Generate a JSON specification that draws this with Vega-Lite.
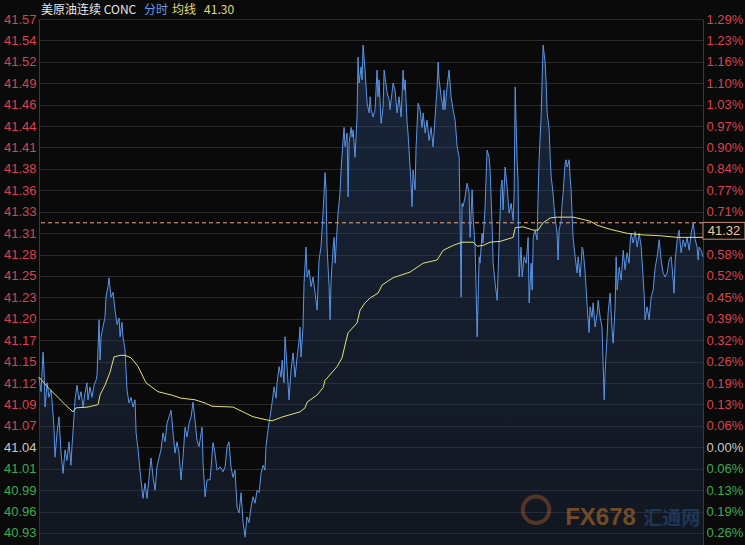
{
"$schema": "https://vega.github.io/schema/vega-lite/v6.json",
"width": 664, "height": 526,
"autosize": {"type": "none"},
"padding": {"left": 39, "top": 19, "right": 42, "bottom": 0},
"background": "#0a0a0a",
"config": {"view": {"stroke": null}, "axis": {"labelFont": "Liberation Sans", "labelFontSize": 13}},
"datasets": {
"price": [
{"t":0,"p":41.127},{"t":1.4,"p":41.109},{"t":2.8,"p":41.158},{"t":3.5,"p":41.136},{"t":4.2,"p":41.090},{"t":5.6,"p":41.120},{"t":6.9,"p":41.102},{"t":8.3,"p":41.111},{"t":9.0,"p":41.099},{"t":10.4,"p":41.065},{"t":11.1,"p":41.028},{"t":12.5,"p":41.058},{"t":13.9,"p":41.078},{"t":15.3,"p":41.033},{"t":16.7,"p":41.008},{"t":18.1,"p":41.037},{"t":19.4,"p":41.024},{"t":20.8,"p":41.047},{"t":22.2,"p":41.018},{"t":22.9,"p":41.041},{"t":24.3,"p":41.078},{"t":25.0,"p":41.099},{"t":26.4,"p":41.117},{"t":27.8,"p":41.099},{"t":29.2,"p":41.109},{"t":30.6,"p":41.090},{"t":31.9,"p":41.107},{"t":33.3,"p":41.120},{"t":34.0,"p":41.099},{"t":35.4,"p":41.115},{"t":36.8,"p":41.102},{"t":38.2,"p":41.117},{"t":39.6,"p":41.123},{"t":40.3,"p":41.130},{"t":41.7,"p":41.198},{"t":42.4,"p":41.148},{"t":43.1,"p":41.177},{"t":44.4,"p":41.189},{"t":45.8,"p":41.201},{"t":46.5,"p":41.226},{"t":47.9,"p":41.239},{"t":48.6,"p":41.250},{"t":50.0,"p":41.226},{"t":51.4,"p":41.232},{"t":52.8,"p":41.210},{"t":54.2,"p":41.192},{"t":55.6,"p":41.200},{"t":56.3,"p":41.177},{"t":57.6,"p":41.195},{"t":58.3,"p":41.177},{"t":59.7,"p":41.161},{"t":61.1,"p":41.111},{"t":62.5,"p":41.095},{"t":63.9,"p":41.102},{"t":65.3,"p":41.090},{"t":66.7,"p":41.099},{"t":67.4,"p":41.058},{"t":68.8,"p":41.037},{"t":70.1,"p":41.012},{"t":70.8,"p":41.000},{"t":72.2,"p":40.977},{"t":73.6,"p":40.996},{"t":75.0,"p":40.977},{"t":76.4,"p":41.003},{"t":77.8,"p":41.027},{"t":79.2,"p":41.003},{"t":80.6,"p":40.987},{"t":81.9,"p":41.016},{"t":83.3,"p":41.027},{"t":84.7,"p":41.037},{"t":86.1,"p":41.058},{"t":87.5,"p":41.047},{"t":88.9,"p":41.070},{"t":90.3,"p":41.078},{"t":91.7,"p":41.086},{"t":93.1,"p":41.058},{"t":94.4,"p":41.033},{"t":95.8,"p":41.047},{"t":97.2,"p":41.033},{"t":98.6,"p":41.000},{"t":100.0,"p":41.028},{"t":101.4,"p":41.065},{"t":102.8,"p":41.053},{"t":104.2,"p":41.070},{"t":105.6,"p":41.078},{"t":106.9,"p":41.096},{"t":108.3,"p":41.074},{"t":109.7,"p":41.049},{"t":111.1,"p":41.041},{"t":111.8,"p":41.049},{"t":113.2,"p":41.065},{"t":113.9,"p":41.021},{"t":115.3,"p":40.979},{"t":116.7,"p":41.000},{"t":118.8,"p":41.000},{"t":120.8,"p":41.046},{"t":122.2,"p":41.033},{"t":123.6,"p":41.012},{"t":125.7,"p":41.016},{"t":127.8,"p":41.010},{"t":129.2,"p":41.016},{"t":130.6,"p":41.041},{"t":131.9,"p":41.047},{"t":133.3,"p":41.016},{"t":134.7,"p":41.003},{"t":136.1,"p":41.012},{"t":137.5,"p":40.966},{"t":138.9,"p":40.959},{"t":140.3,"p":40.984},{"t":141.7,"p":40.947},{"t":143.1,"p":40.929},{"t":144.4,"p":40.954},{"t":145.8,"p":40.947},{"t":147.2,"p":40.966},{"t":148.6,"p":40.979},{"t":150.0,"p":40.971},{"t":151.4,"p":40.987},{"t":152.8,"p":40.984},{"t":154.2,"p":41.008},{"t":155.6,"p":41.018},{"t":156.9,"p":41.012},{"t":157.6,"p":41.041},{"t":159.0,"p":41.062},{"t":160.4,"p":41.078},{"t":161.8,"p":41.095},{"t":163.2,"p":41.115},{"t":164.6,"p":41.101},{"t":165.3,"p":41.120},{"t":166.7,"p":41.140},{"t":168.1,"p":41.127},{"t":168.8,"p":41.148},{"t":170.1,"p":41.120},{"t":170.8,"p":41.177},{"t":172.2,"p":41.140},{"t":173.6,"p":41.099},{"t":175.0,"p":41.136},{"t":176.4,"p":41.157},{"t":177.8,"p":41.127},{"t":179.2,"p":41.152},{"t":180.6,"p":41.173},{"t":181.2,"p":41.189},{"t":181.9,"p":41.152},{"t":183.3,"p":41.189},{"t":184.0,"p":41.243},{"t":185.4,"p":41.288},{"t":186.1,"p":41.251},{"t":187.5,"p":41.260},{"t":188.9,"p":41.239},{"t":190.3,"p":41.251},{"t":191.7,"p":41.231},{"t":193.1,"p":41.210},{"t":194.4,"p":41.272},{"t":195.8,"p":41.288},{"t":197.2,"p":41.330},{"t":198.6,"p":41.380},{"t":199.3,"p":41.359},{"t":200.0,"p":41.288},{"t":201.4,"p":41.239},{"t":202.1,"p":41.198},{"t":202.8,"p":41.247},{"t":204.2,"p":41.288},{"t":204.9,"p":41.300},{"t":205.6,"p":41.268},{"t":206.9,"p":41.309},{"t":207.6,"p":41.330},{"t":209.0,"p":41.355},{"t":209.7,"p":41.383},{"t":211.1,"p":41.420},{"t":211.8,"p":41.436},{"t":212.5,"p":41.412},{"t":213.9,"p":41.429},{"t":214.6,"p":41.350},{"t":215.3,"p":41.417},{"t":216.7,"p":41.436},{"t":217.4,"p":41.424},{"t":218.1,"p":41.433},{"t":219.4,"p":41.399},{"t":220.8,"p":41.449},{"t":221.5,"p":41.523},{"t":222.2,"p":41.491},{"t":223.6,"p":41.511},{"t":224.3,"p":41.495},{"t":225.0,"p":41.538},{"t":226.4,"p":41.507},{"t":227.1,"p":41.486},{"t":227.8,"p":41.466},{"t":229.2,"p":41.454},{"t":229.9,"p":41.474},{"t":230.6,"p":41.458},{"t":231.9,"p":41.449},{"t":233.3,"p":41.458},{"t":234.7,"p":41.507},{"t":235.4,"p":41.474},{"t":236.1,"p":41.495},{"t":237.5,"p":41.441},{"t":238.9,"p":41.461},{"t":239.6,"p":41.507},{"t":240.3,"p":41.498},{"t":241.7,"p":41.479},{"t":243.1,"p":41.470},{"t":243.7,"p":41.458},{"t":245.1,"p":41.479},{"t":245.8,"p":41.491},{"t":247.2,"p":41.482},{"t":248.6,"p":41.454},{"t":250.0,"p":41.474},{"t":251.4,"p":41.449},{"t":252.8,"p":41.507},{"t":253.5,"p":41.482},{"t":254.2,"p":41.495},{"t":255.6,"p":41.441},{"t":256.2,"p":41.429},{"t":256.9,"p":41.408},{"t":258.3,"p":41.367},{"t":259.0,"p":41.338},{"t":259.7,"p":41.383},{"t":261.1,"p":41.359},{"t":261.8,"p":41.412},{"t":263.2,"p":41.466},{"t":264.6,"p":41.458},{"t":265.9,"p":41.436},{"t":266.7,"p":41.454},{"t":268.1,"p":41.429},{"t":269.4,"p":41.445},{"t":270.8,"p":41.420},{"t":272.2,"p":41.436},{"t":273.6,"p":41.412},{"t":275.0,"p":41.449},{"t":276.4,"p":41.486},{"t":277.1,"p":41.517},{"t":277.8,"p":41.495},{"t":279.2,"p":41.474},{"t":280.6,"p":41.458},{"t":281.2,"p":41.482},{"t":281.9,"p":41.458},{"t":283.3,"p":41.486},{"t":284.7,"p":41.507},{"t":286.1,"p":41.474},{"t":287.5,"p":41.458},{"t":288.9,"p":41.445},{"t":289.6,"p":41.429},{"t":290.3,"p":41.412},{"t":291.7,"p":41.399},{"t":293.1,"p":41.226},{"t":293.7,"p":41.342},{"t":294.4,"p":41.338},{"t":295.8,"p":41.350},{"t":297.2,"p":41.367},{"t":298.6,"p":41.355},{"t":299.3,"p":41.300},{"t":300.7,"p":41.359},{"t":301.4,"p":41.325},{"t":302.8,"p":41.288},{"t":304.2,"p":41.177},{"t":305.6,"p":41.276},{"t":306.2,"p":41.268},{"t":307.6,"p":41.305},{"t":308.3,"p":41.293},{"t":309.7,"p":41.338},{"t":311.1,"p":41.408},{"t":312.5,"p":41.399},{"t":313.2,"p":41.383},{"t":314.6,"p":41.313},{"t":315.3,"p":41.268},{"t":316.7,"p":41.243},{"t":318.1,"p":41.222},{"t":319.4,"p":41.293},{"t":320.8,"p":41.362},{"t":321.5,"p":41.371},{"t":322.2,"p":41.334},{"t":323.6,"p":41.387},{"t":325.0,"p":41.362},{"t":326.4,"p":41.330},{"t":327.8,"p":41.342},{"t":329.2,"p":41.321},{"t":329.9,"p":41.355},{"t":330.6,"p":41.486},{"t":331.9,"p":41.396},{"t":332.6,"p":41.371},{"t":333.3,"p":41.251},{"t":334.7,"p":41.288},{"t":335.4,"p":41.251},{"t":336.8,"p":41.276},{"t":338.2,"p":41.268},{"t":339.6,"p":41.300},{"t":340.3,"p":41.219},{"t":341.7,"p":41.268},{"t":342.4,"p":41.235},{"t":343.1,"p":41.300},{"t":344.4,"p":41.309},{"t":345.8,"p":41.297},{"t":346.5,"p":41.350},{"t":347.2,"p":41.396},{"t":348.6,"p":41.449},{"t":349.3,"p":41.495},{"t":350.0,"p":41.538},{"t":351.4,"p":41.516},{"t":352.1,"p":41.491},{"t":352.8,"p":41.454},{"t":354.2,"p":41.433},{"t":354.9,"p":41.399},{"t":355.6,"p":41.375},{"t":356.9,"p":41.355},{"t":357.6,"p":41.338},{"t":358.3,"p":41.325},{"t":359.7,"p":41.305},{"t":360.4,"p":41.272},{"t":361.1,"p":41.309},{"t":362.5,"p":41.321},{"t":363.2,"p":41.342},{"t":363.9,"p":41.355},{"t":365.3,"p":41.392},{"t":365.9,"p":41.396},{"t":366.7,"p":41.387},{"t":368.1,"p":41.396},{"t":368.7,"p":41.375},{"t":369.4,"p":41.359},{"t":370.8,"p":41.300},{"t":372.2,"p":41.276},{"t":373.6,"p":41.256},{"t":374.3,"p":41.276},{"t":375.7,"p":41.251},{"t":377.1,"p":41.288},{"t":377.8,"p":41.284},{"t":379.2,"p":41.256},{"t":380.6,"p":41.214},{"t":381.9,"p":41.182},{"t":382.6,"p":41.214},{"t":384.0,"p":41.201},{"t":384.7,"p":41.219},{"t":386.1,"p":41.189},{"t":387.5,"p":41.206},{"t":388.2,"p":41.222},{"t":389.6,"p":41.201},{"t":390.9,"p":41.189},{"t":391.7,"p":41.140},{"t":392.4,"p":41.099},{"t":393.0,"p":41.132},{"t":394.4,"p":41.177},{"t":395.1,"p":41.206},{"t":396.5,"p":41.231},{"t":397.9,"p":41.185},{"t":398.6,"p":41.169},{"t":400.0,"p":41.214},{"t":400.7,"p":41.276},{"t":401.4,"p":41.235},{"t":402.8,"p":41.263},{"t":404.2,"p":41.247},{"t":405.6,"p":41.284},{"t":406.9,"p":41.260},{"t":408.3,"p":41.281},{"t":409.7,"p":41.268},{"t":410.4,"p":41.293},{"t":411.1,"p":41.305},{"t":412.5,"p":41.293},{"t":413.9,"p":41.307},{"t":415.3,"p":41.288},{"t":416.7,"p":41.305},{"t":418.1,"p":41.288},{"t":419.4,"p":41.251},{"t":420.1,"p":41.231},{"t":420.8,"p":41.198},{"t":422.2,"p":41.214},{"t":423.6,"p":41.198},{"t":425.0,"p":41.226},{"t":426.4,"p":41.235},{"t":427.8,"p":41.263},{"t":429.2,"p":41.276},{"t":430.6,"p":41.297},{"t":431.9,"p":41.272},{"t":433.3,"p":41.256},{"t":434.7,"p":41.251},{"t":436.1,"p":41.256},{"t":437.5,"p":41.272},{"t":438.9,"p":41.276},{"t":440.3,"p":41.247},{"t":440.9,"p":41.231},{"t":441.7,"p":41.272},{"t":443.1,"p":41.297},{"t":444.4,"p":41.309},{"t":445.8,"p":41.281},{"t":447.2,"p":41.297},{"t":448.6,"p":41.288},{"t":450.0,"p":41.300},{"t":451.4,"p":41.284},{"t":452.8,"p":41.305},{"t":454.2,"p":41.318},{"t":455.6,"p":41.297},{"t":456.9,"p":41.288},{"t":457.6,"p":41.272},{"t":458.3,"p":41.288},{"t":459.7,"p":41.284},{"t":461.0,"p":41.276}
],
"avg": [
{"t":0,"p":41.127},{"t":6.3,"p":41.114},{"t":13.2,"p":41.102},{"t":18.1,"p":41.093},{"t":23.6,"p":41.084},{"t":25.7,"p":41.089},{"t":34.0,"p":41.090},{"t":41.0,"p":41.093},{"t":42.4,"p":41.105},{"t":45.8,"p":41.117},{"t":49.3,"p":41.133},{"t":52.1,"p":41.152},{"t":56.3,"p":41.154},{"t":59.7,"p":41.154},{"t":63.9,"p":41.151},{"t":68.8,"p":41.140},{"t":74.3,"p":41.120},{"t":82.6,"p":41.109},{"t":91.7,"p":41.105},{"t":98.6,"p":41.101},{"t":108.3,"p":41.099},{"t":115.3,"p":41.095},{"t":120.1,"p":41.091},{"t":134.7,"p":41.090},{"t":141.7,"p":41.084},{"t":148.6,"p":41.078},{"t":158.3,"p":41.074},{"t":161.8,"p":41.073},{"t":169.4,"p":41.078},{"t":181.2,"p":41.084},{"t":184.7,"p":41.089},{"t":186.1,"p":41.096},{"t":193.1,"p":41.105},{"t":197.2,"p":41.114},{"t":198.6,"p":41.123},{"t":206.9,"p":41.140},{"t":210.4,"p":41.151},{"t":212.5,"p":41.167},{"t":214.6,"p":41.182},{"t":220.8,"p":41.194},{"t":222.9,"p":41.210},{"t":226.4,"p":41.219},{"t":229.9,"p":41.225},{"t":235.4,"p":41.231},{"t":238.2,"p":41.241},{"t":245.8,"p":41.250},{"t":257.6,"p":41.257},{"t":266.7,"p":41.268},{"t":276.4,"p":41.272},{"t":280.6,"p":41.284},{"t":287.5,"p":41.290},{"t":293.7,"p":41.294},{"t":301.4,"p":41.294},{"t":304.2,"p":41.289},{"t":308.3,"p":41.290},{"t":313.2,"p":41.294},{"t":320.1,"p":41.295},{"t":329.2,"p":41.300},{"t":330.6,"p":41.312},{"t":336.1,"p":41.313},{"t":343.1,"p":41.309},{"t":346.5,"p":41.309},{"t":350.0,"p":41.318},{"t":354.9,"p":41.324},{"t":359.7,"p":41.325},{"t":370.8,"p":41.325},{"t":375.7,"p":41.323},{"t":382.6,"p":41.320},{"t":387.5,"p":41.315},{"t":396.5,"p":41.310},{"t":408.3,"p":41.305},{"t":419.4,"p":41.303},{"t":431.2,"p":41.302},{"t":443.1,"p":41.300},{"t":461.0,"p":41.300}
]
},
"resolve": {"axis": {"y": "independent"}},
"layer": [
{
"data": {"name": "price"},
"mark": {"type": "area", "color": {"gradient": "linear", "x1": 0, "y1": 0, "x2": 0, "y2": 1, "stops": [{"offset": 0, "color": "rgba(45,75,125,0.42)"}, {"offset": 1, "color": "rgba(30,45,70,0.38)"}]}},
"encoding": {
"x": {"field": "t", "type": "quantitative", "scale": {"domain": [0, 461], "nice": false, "zero": false},
"axis": {"orient": "bottom", "values": [30,60,90,120,150,180,210,240,270,300,330,360,390,420], "labels": false, "ticks": false, "domain": false, "title": null, "grid": true, "gridColor": "#333333", "gridDash": {"condition": {"test": "datum.value % 60 != 0", "value": [1, 2]}, "value": []}}},
"y": {"field": "p", "type": "quantitative", "scale": {"domain": [40.9193, 41.5702], "nice": false, "zero": false},
"axis": {"orient": "left", "values": [40.9342,40.9607,40.9872,41.0137,41.0402,41.0667,41.0932,41.1197,41.1462,41.1727,41.1992,41.2257,41.2522,41.2787,41.3052,41.3317,41.3582,41.3847,41.4112,41.4377,41.4642,41.4907,41.5172,41.5437,41.5702],
"labelExpr": "format(datum.value, '.2f')", "title": null, "ticks": false, "domain": true, "domainColor": "#3a3a3a", "grid": true, "gridColor": "#2a2a2a", "labelPadding": 3, "labelOverlap": false, "labelFlush": false,
"labelColor": {"condition": [{"test": "datum.value > 41.05", "value": "#d9434f"}, {"test": "datum.value < 41.03", "value": "#3daa52"}], "value": "#c8c8c8"}}},
"y2": {"datum": 40.9193}
}
},
{
"data": {"values": [{}]},
"mark": {"type": "rule", "color": "#e8a888", "strokeDash": [4, 3], "strokeWidth": 1},
"encoding": {"y": {"datum": 41.318, "type": "quantitative", "scale": {"domain": [40.9193, 41.5702], "nice": false, "zero": false}, "axis": null}}
},
{
"data": {"name": "price"},
"mark": {"type": "line", "color": "#5a94e6", "strokeWidth": 1},
"encoding": {
"x": {"field": "t", "type": "quantitative", "scale": {"domain": [0, 461], "nice": false, "zero": false}, "axis": null},
"y": {"field": "p", "type": "quantitative", "scale": {"domain": [40.9193, 41.5702], "nice": false, "zero": false},
"axis": {"orient": "right", "values": [40.9342,40.9607,40.9872,41.0137,41.0402,41.0667,41.0932,41.1197,41.1462,41.1727,41.1992,41.2257,41.2522,41.2787,41.3317,41.3582,41.3847,41.4112,41.4377,41.4642,41.4907,41.5172,41.5437,41.5702],
"labelExpr": "format(abs(round((datum.value - 41.0402) / 0.0265)) * 0.06452, '.2f') + '%'", "title": null, "ticks": false, "domain": true, "domainColor": "#3a3a3a", "grid": false, "labelPadding": 3, "labelOverlap": false, "labelFlush": false,
"labelColor": {"condition": [{"test": "datum.value > 41.05", "value": "#d9434f"}, {"test": "datum.value < 41.03", "value": "#3daa52"}], "value": "#c8c8c8"}}}
}
},
{
"data": {"name": "avg"},
"mark": {"type": "line", "color": "#e2e27a", "strokeWidth": 1},
"encoding": {
"x": {"field": "t", "type": "quantitative", "scale": {"domain": [0, 461], "nice": false, "zero": false}, "axis": null},
"y": {"field": "p", "type": "quantitative", "scale": {"domain": [40.9193, 41.5702], "nice": false, "zero": false}, "axis": null}
}
},
{
"data": {"values": [{}]},
"mark": {"type": "point", "shape": "M-1,-0.4H1V0.4H-1Z", "size": 1764, "filled": true, "fill": "#0a0a0a", "stroke": "#c8906a", "strokeWidth": 1, "opacity": 1, "xOffset": 21, "yOffset": 8},
"encoding": {
"x": {"datum": 461, "type": "quantitative", "scale": {"domain": [0, 461], "nice": false, "zero": false}, "axis": null},
"y": {"datum": 41.318, "type": "quantitative", "scale": {"domain": [40.9193, 41.5702], "nice": false, "zero": false}, "axis": null}
}
},
{
"data": {"values": [{}]},
"mark": {"type": "text", "text": "41.32", "color": "#f0c8a0", "fontSize": 13, "font": "Liberation Sans", "align": "center", "baseline": "middle", "xOffset": 21, "yOffset": 8},
"encoding": {
"x": {"datum": 461, "type": "quantitative", "scale": {"domain": [0, 461], "nice": false, "zero": false}, "axis": null},
"y": {"datum": 41.318, "type": "quantitative", "scale": {"domain": [40.9193, 41.5702], "nice": false, "zero": false}, "axis": null}
}
},
{
"data": {"values": [{}]},
"mark": {"type": "text", "text": "美原油连续 CONC", "color": "#e6e6e6", "fontSize": 12, "font": "Noto Sans CJK SC", "align": "left", "baseline": "middle", "dy": -9},
"encoding": {
"x": {"datum": 1.4, "type": "quantitative", "scale": {"domain": [0, 461], "nice": false, "zero": false}, "axis": null},
"y": {"datum": 41.5702, "type": "quantitative", "scale": {"domain": [40.9193, 41.5702], "nice": false, "zero": false}, "axis": null}
}
},
{
"data": {"values": [{}]},
"mark": {"type": "text", "text": "分时", "color": "#6a9ae8", "fontSize": 12, "font": "Noto Sans CJK SC", "align": "left", "baseline": "middle", "dy": -9},
"encoding": {
"x": {"datum": 72.9, "type": "quantitative", "scale": {"domain": [0, 461], "nice": false, "zero": false}, "axis": null},
"y": {"datum": 41.5702, "type": "quantitative", "scale": {"domain": [40.9193, 41.5702], "nice": false, "zero": false}, "axis": null}
}
},
{
"data": {"values": [{}]},
"mark": {"type": "text", "text": "均线", "color": "#e0dc78", "fontSize": 12, "font": "Noto Sans CJK SC", "align": "left", "baseline": "middle", "dy": -9},
"encoding": {
"x": {"datum": 92.4, "type": "quantitative", "scale": {"domain": [0, 461], "nice": false, "zero": false}, "axis": null},
"y": {"datum": 41.5702, "type": "quantitative", "scale": {"domain": [40.9193, 41.5702], "nice": false, "zero": false}, "axis": null}
}
},
{
"data": {"values": [{}]},
"mark": {"type": "text", "text": "41.30", "color": "#e0dc78", "fontSize": 12, "font": "Noto Sans CJK SC", "align": "left", "baseline": "middle", "dy": -9},
"encoding": {
"x": {"datum": 114.6, "type": "quantitative", "scale": {"domain": [0, 461], "nice": false, "zero": false}, "axis": null},
"y": {"datum": 41.5702, "type": "quantitative", "scale": {"domain": [40.9193, 41.5702], "nice": false, "zero": false}, "axis": null}
}
},
{
"data": {"values": [{}]},
"mark": {"type": "point", "shape": "circle", "size": 700, "filled": false, "stroke": "#a8582a", "strokeWidth": 4, "opacity": 0.45},
"encoding": {
"x": {"datum": 345.1, "type": "quantitative", "scale": {"domain": [0, 461], "nice": false, "zero": false}, "axis": null},
"y": {"datum": 40.963, "type": "quantitative", "scale": {"domain": [40.9193, 41.5702], "nice": false, "zero": false}, "axis": null}
}
},
{
"data": {"values": [{}]},
"mark": {"type": "text", "text": "FX678", "color": "#9a6028", "opacity": 0.7, "fontSize": 24, "fontWeight": "bold", "font": "Liberation Sans", "align": "left", "baseline": "alphabetic"},
"encoding": {
"x": {"datum": 365.3, "type": "quantitative", "scale": {"domain": [0, 461], "nice": false, "zero": false}, "axis": null},
"y": {"datum": 40.9441, "type": "quantitative", "scale": {"domain": [40.9193, 41.5702], "nice": false, "zero": false}, "axis": null}
}
},
{
"data": {"values": [{}]},
"mark": {"type": "text", "text": "汇通网", "color": "#22406a", "opacity": 0.75, "fontSize": 19, "fontWeight": "bold", "font": "Noto Sans CJK SC", "align": "left", "baseline": "alphabetic"},
"encoding": {
"x": {"datum": 419.5, "type": "quantitative", "scale": {"domain": [0, 461], "nice": false, "zero": false}, "axis": null},
"y": {"datum": 40.9441, "type": "quantitative", "scale": {"domain": [40.9193, 41.5702], "nice": false, "zero": false}, "axis": null}
}
}
]
}
